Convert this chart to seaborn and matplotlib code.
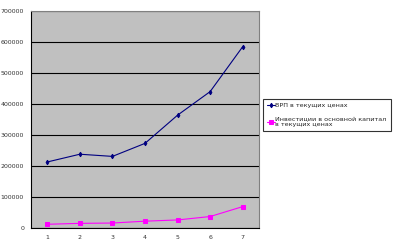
import matplotlib
matplotlib.use("Agg")
import matplotlib.pyplot as plt
import seaborn as sns
import pandas as pd

years = [1, 2, 3, 4, 5, 6, 7]
vrp = [213000, 238000, 231000, 273000, 364000, 440000, 585000]
invest = [12000, 15000, 16000, 22000, 26000, 37000, 69000]
series_names = ["ВРП в текущих ценах", "Инвестиции в основной капитал\nв текущих ценах"]
yticks = [0, 100000, 200000, 300000, 400000, 500000, 600000, 700000]

sns.set_style("white")
plt.rcParams['font.family'] = ['DejaVu Sans']

fig = plt.figure(figsize=(3.99, 2.48), dpi=100)
ax = fig.add_axes([31/399, 1 - 228/248, 228/399, 217/248])
ax.set_facecolor("#C0C0C0")

df = pd.DataFrame({"x": [y - 1 for y in years] * 2,
                   "v": vrp + invest,
                   "s": [series_names[0]] * 7 + [series_names[1]] * 7})
sns.lineplot(data=df, x="x", y="v", hue="s", style="s",
             palette=["#000080", "#FF00FF"], markers=["d", "s"], dashes=False,
             markersize=2.3, linewidth=0.8, ax=ax, legend=True)
for ln in ax.lines:
    ln.set_markeredgecolor(ln.get_color())

ax.set_xlim(-0.5, 6.5)
ax.set_ylim(0, 700000)
ax.set_yticks(yticks)
ax.set_yticklabels([str(t) for t in yticks], fontsize=4.5, color="#333333")
ax.set_xticks(range(7))
ax.set_xticklabels([str(y) for y in years], fontsize=4.5, color="#333333")
ax.set_xticks([i + 0.5 for i in range(-1, 7)], minor=True)
ax.tick_params(axis="x", which="major", length=0, pad=5)
ax.tick_params(axis="x", which="minor", length=2, width=0.6, color="black")
ax.tick_params(axis="y", which="major", length=2, width=0.6, color="black", pad=3)
ax.yaxis.grid(True, color="black", linewidth=0.8)
ax.set_axisbelow(True)
ax.set_xlabel("")
ax.set_ylabel("")
for side in ["left", "bottom"]:
    ax.spines[side].set_color("black")
    ax.spines[side].set_linewidth(0.8)
for side in ["top", "right"]:
    ax.spines[side].set_color("#808080")
    ax.spines[side].set_linewidth(0.8)

handles, labels = ax.get_legend_handles_labels()
for h in handles:
    h.set_markeredgecolor(h.get_color())
ax.legend_.remove()
leg = fig.legend(handles, labels, loc="upper left",
                 bbox_to_anchor=(263/399, 1 - 99/248), fontsize=4.6,
                 frameon=True, fancybox=False, edgecolor="black",
                 handlelength=1.2, handletextpad=0.15, borderpad=0.6,
                 labelspacing=1.3, borderaxespad=0)
leg.get_frame().set_linewidth(0.8)

fig.savefig("out.png", dpi=100)
